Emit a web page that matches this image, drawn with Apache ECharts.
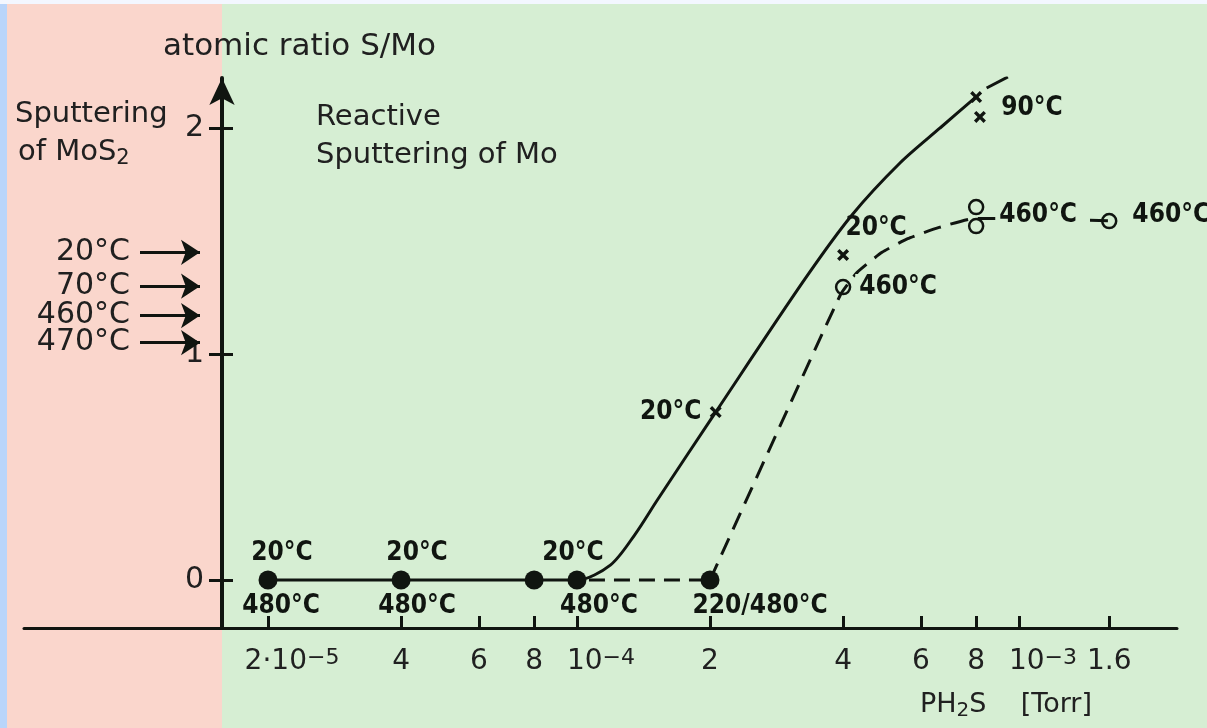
<!DOCTYPE html>
<html>
<head>
<meta charset="utf-8">
<script src="https://cdn.jsdelivr.net/npm/echarts@6/dist/echarts.min.js"></script>
<style>
  html, body { margin: 0; padding: 0; width: 1207px; height: 728px; overflow: hidden; }
  body {
    background:
      linear-gradient(to bottom, #f3f7ff 0 4px, transparent 4px),
      linear-gradient(to right, #b9d5fa 0 7px, #fad6cc 7px 222px, #d6eed3 222px);
  }
  #chart { width: 1207px; height: 728px; }
</style>
</head>
<body>
<div id="chart"></div>
<script>
// H2S partial pressure [Torr] against S/Mo atomic ratio of the deposited films

// Films on the zero line (filled dots)
const zeroPressure = [2e-5, 4e-5, 8e-5, 1e-4, 2e-4];
const zeroRatio = [0, 0, 0, 0, 0];
const zeroTempAbove = ['20°C', '20°C', '', '20°C', ''];
const zeroTempBelow = ['480°C', '480°C', '', '480°C', '220/480°C'];

// Solid curve (low substrate temperature)
const coldPressure = [2e-5, 4e-5, 8e-5, 1e-4, 1.19e-4, 1.35e-4, 1.52e-4, 2.06e-4, 3.28e-4, 4.19e-4, 5.38e-4, 6.63e-4, 7.95e-4];
const coldRatio = [0, 0, 0, 0, 0.066, 0.199, 0.354, 0.743, 1.332, 1.615, 1.845, 2.0, 2.133];
const coldTailPressure = [8.45e-4, 9.44e-4];
const coldTailRatio = [2.177, 2.226];

// Dashed curve (high substrate temperature)
const hotFlatPressure = [1e-4, 2e-4];
const hotFlatRatio = [0, 0];
const hotRisePressure = [2e-4, 3.94e-4, 4.3e-4, 4.9e-4, 5.6e-4, 6.6e-4, 7.94e-4, 1.6e-3];
const hotRiseRatio = [0, 1.26, 1.36, 1.45, 1.51, 1.56, 1.6, 1.59];

// Measured points: crosses and open circles
const crossPressure = [2.06e-4, 4e-4, 8e-4, 8.16e-4];
const crossRatio = [0.743, 1.438, 2.137, 2.049];
const crossTemp = ['20°C', '20°C', '', '90°C'];
const ringPressure = [4e-4, 8e-4, 8e-4, 1.6e-3];
const ringRatio = [1.296, 1.65, 1.566, 1.588];
const ringTemp = ['460°C', '460°C', '', '460°C'];

// Sputtering of MoS2 targets
const mos2Temp = ['20°C', '70°C', '460°C', '470°C'];
const mos2Ratio = [1.45, 1.30, 1.17, 1.05];

// Axis ticks
const xTickPressure = [2e-5, 4e-5, 6e-5, 8e-5, 1e-4, 2e-4, 4e-4, 6e-4, 8e-4, 1e-3, 1.6e-3];
const xTickBase = ['2·10', '4', '6', '8', '10', '2', '4', '6', '8', '10', '1.6'];
const xTickExp = ['−5', '', '', '', '−4', '', '', '', '', '−3', ''];
const yTicks = [0, 1, 2];

// ---------------------------------------------------------------
const INK = '#101510';
const TEXT = '#202020';
const SANS = 'DejaVu Sans';
const COND = 'DejaVu Sans Condensed';
const lg = Math.log10;
const pt = (p, r) => [lg(p), r];

// label offsets (text centre relative to the mark centre)
const aboveShift = [[14, -27], [16, -27], [0, 0], [-4, -27], [0, 0]];
const belowShift = [[13, 26], [16, 26], [0, 0], [22, 26], [50, 26]];
const crossShift = [[-45, 0], [33, -27], [0, 0], [52, -9]];
const ringShift = [[55, 0], [62, 8], [0, 0], [62, -6]];

const markLabel = {
  fontFamily: COND, fontSize: 26, fontWeight: 'bold', color: INK
};

const crossSymbol = 'path://M0,2 L2,0 L5,3 L8,0 L10,2 L7,5 L10,8 L8,10 L5,7 L2,10 L0,8 L3,5 Z';

const chart = echarts.init(document.getElementById('chart'));

const tickIndex = v => xTickPressure.findIndex(p => Math.abs(lg(p) - v) < 1e-6);

const yRange = { min: -0.2124, max: 2.2212 };

// grid box; the vertical axis is drawn at pixel column Y_AXIS_X
const GRID = { left: 24, right: 30, top: 78, bottom: 100 };
const Y_AXIS_X = 222;
const gridWidth = 1207 - GRID.left - GRID.right;
// horizontal helper scale (0..1 across the grid) for the left-hand annotations
const frac = px => (px - GRID.left) / gridWidth;

const option = {
  animation: false,
  backgroundColor: 'transparent',
  grid: GRID,
  xAxis: [{
    type: 'value',
    min: -5.2510, max: -2.6425,
    axisLine: { onZero: false, lineStyle: { color: INK, width: 3 } },
    axisTick: { inside: true, length: 12, lineStyle: { color: INK, width: 3 }, customValues: xTickPressure.map(lg) },
    splitLine: { show: false },
    axisLabel: {
      customValues: xTickPressure.map(lg),
      margin: 19,
      color: TEXT,
      fontFamily: SANS,
      formatter: v => {
        const i = tickIndex(v);
        if (i < 0) return '';
        return xTickExp[i] ? '{p| }{b|' + xTickBase[i] + '}{s|' + xTickExp[i] + '}' : '{b|' + xTickBase[i] + '}';
      },
      rich: {
        p: { width: 48, fontSize: 28, lineHeight: 30 },
        b: { fontSize: 28, fontFamily: SANS, color: TEXT, lineHeight: 30, verticalAlign: 'middle' },
        s: { fontSize: 22, fontFamily: SANS, color: TEXT, lineHeight: 20, verticalAlign: 'top' }
      }
    }
  }, {
    type: 'value', min: 0, max: 1, show: false
  }],
  yAxis: [{
    type: 'value',
    position: 'left',
    min: yRange.min, max: yRange.max,
    offset: GRID.left - Y_AXIS_X,
    axisLine: { show: true, symbol: ['none', 'arrow'], symbolSize: [19, 27], lineStyle: { color: INK, width: 4 } },
    axisTick: { show: false },
    axisLabel: { customValues: yTicks, margin: 18, color: TEXT, fontFamily: SANS, fontSize: 30 },
    splitLine: { show: false }
  }],
  series: [
    {
      // cross-shaped ticks on the vertical axis
      type: 'lines', name: 'y ticks', coordinateSystem: 'cartesian2d', xAxisIndex: 1, yAxisIndex: 0,
      data: yTicks.map(v => ({ coords: [[frac(Y_AXIS_X - 13), v], [frac(Y_AXIS_X + 11), v]] })),
      symbol: 'none', lineStyle: { color: INK, width: 3, opacity: 1 }, silent: true, z: 4
    },
    {
      type: 'line', name: 'cold', smooth: 0.3,
      data: coldPressure.map((p, i) => pt(p, coldRatio[i])),
      symbol: 'none', lineStyle: { color: INK, width: 3 }, z: 3
    },
    {
      type: 'line', name: 'cold tail',
      data: coldTailPressure.map((p, i) => pt(p, coldTailRatio[i])),
      symbol: 'none', lineStyle: { color: INK, width: 3 }, z: 3
    },
    {
      type: 'line', name: 'hot flat',
      data: hotFlatPressure.map((p, i) => pt(p, hotFlatRatio[i])),
      symbol: 'none', lineStyle: { color: INK, width: 3, type: [16, 9], dashOffset: -12 }, z: 3
    },
    {
      type: 'line', name: 'hot rise', smooth: 0.15,
      data: hotRisePressure.map((p, i) => pt(p, hotRiseRatio[i])),
      symbol: 'none', lineStyle: { color: INK, width: 3, type: [18, 10] }, z: 3
    },
    {
      type: 'scatter', name: 'zero above',
      data: zeroPressure.map((p, i) => ({
        value: pt(p, zeroRatio[i]),
        label: { show: !!zeroTempAbove[i], position: 'inside', offset: aboveShift[i], formatter: zeroTempAbove[i] }
      })),
      symbol: 'circle', symbolSize: 19, itemStyle: { color: INK, opacity: 1 },
      label: markLabel, z: 5
    },
    {
      type: 'scatter', name: 'zero below',
      data: zeroPressure.map((p, i) => ({
        value: pt(p, zeroRatio[i]),
        label: { show: !!zeroTempBelow[i], position: 'inside', offset: belowShift[i], formatter: zeroTempBelow[i] }
      })),
      symbol: 'circle', symbolSize: 1, itemStyle: { color: 'rgba(0,0,0,0)', opacity: 1 },
      label: markLabel, z: 5
    },
    {
      type: 'scatter', name: 'crosses',
      data: crossPressure.map((p, i) => ({
        value: pt(p, crossRatio[i]),
        label: { show: !!crossTemp[i], position: 'inside', offset: crossShift[i], formatter: crossTemp[i] }
      })),
      symbol: crossSymbol, symbolSize: 12, itemStyle: { color: INK, opacity: 1 },
      label: markLabel, z: 5
    },
    {
      type: 'scatter', name: 'rings',
      data: ringPressure.map((p, i) => ({
        value: pt(p, ringRatio[i]),
        label: { show: !!ringTemp[i], position: 'inside', offset: ringShift[i], formatter: ringTemp[i] }
      })),
      symbol: 'circle', symbolSize: 14,
      itemStyle: { color: 'rgba(0,0,0,0)', borderColor: INK, borderWidth: 2.5, opacity: 1 },
      label: Object.assign({}, markLabel, { backgroundColor: '#d6eed3', padding: [0, 4] }), z: 5
    },
    {
      type: 'lines', name: 'MoS2 targets', coordinateSystem: 'cartesian2d', xAxisIndex: 1, yAxisIndex: 0,
      data: mos2Ratio.map((r, i) => ({ name: mos2Temp[i], coords: [[frac(140), r], [frac(200), r]] })),
      symbol: ['none', 'arrow'], symbolSize: 19,
      lineStyle: { color: INK, width: 3, opacity: 1, curveness: 0 },
      label: { show: true, position: 'start', distance: 10, formatter: '{b}', fontFamily: SANS, fontSize: 30, color: TEXT },
      z: 5
    }
  ],
  graphic: [
    { type: 'text', x: 163, y: 47, style: { text: 'atomic ratio S/Mo', fontFamily: SANS, fontSize: 31, fill: TEXT, verticalAlign: 'middle' } },
    { type: 'text', x: 15, y: 114, style: { text: 'Sputtering', fontFamily: SANS, fontSize: 29, fill: TEXT, verticalAlign: 'middle' } },
    { type: 'text', x: 18, y: 152, style: {
        text: '{a|of MoS}{s|2}', verticalAlign: 'middle',
        rich: { a: { fontFamily: SANS, fontSize: 29, fill: TEXT, lineHeight: 34, verticalAlign: 'middle' },
                s: { fontFamily: SANS, fontSize: 21, fill: TEXT, lineHeight: 21, verticalAlign: 'bottom' } } } },
    { type: 'text', x: 316, y: 117, style: { text: 'Reactive', fontFamily: SANS, fontSize: 29, fill: TEXT, verticalAlign: 'middle' } },
    { type: 'text', x: 316, y: 155, style: { text: 'Sputtering of Mo', fontFamily: SANS, fontSize: 29, fill: TEXT, verticalAlign: 'middle' } },
    { type: 'text', x: 920, y: 705, style: {
        text: '{a|PH}{s|2}{a|S    [Torr]}', verticalAlign: 'middle',
        rich: { a: { fontFamily: SANS, fontSize: 27, fill: TEXT, lineHeight: 32, verticalAlign: 'middle' },
                s: { fontFamily: SANS, fontSize: 20, fill: TEXT, lineHeight: 20, verticalAlign: 'bottom' } } } }
  ]
};

chart.setOption(option);
</script>
</body>
</html>
